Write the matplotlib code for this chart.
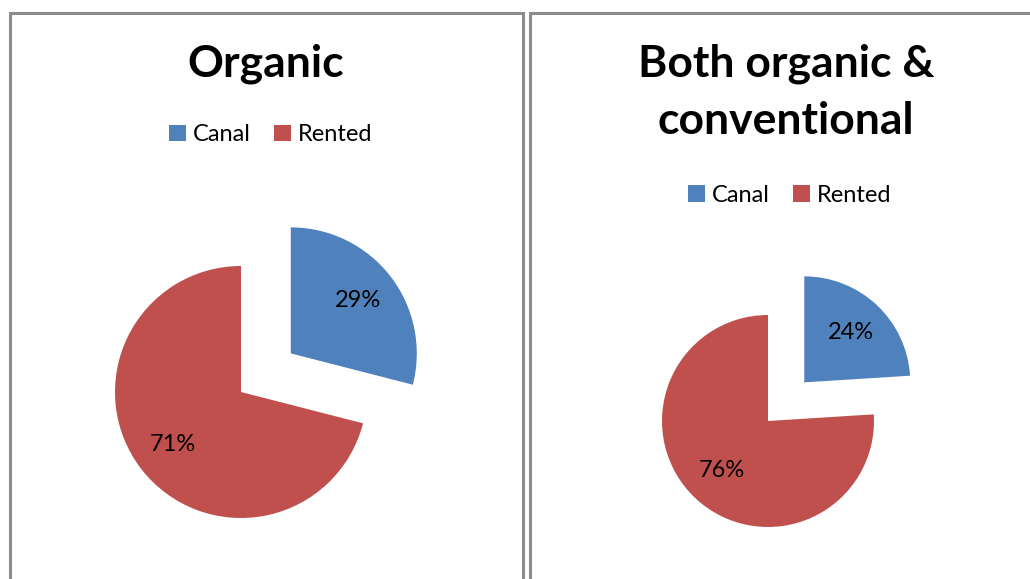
import matplotlib
matplotlib.use('Agg')
import matplotlib.pyplot as plt
from matplotlib.patches import Rectangle, Patch

# data
labels = ['Canal', 'Rented']
organic = [29, 71]
both = [24, 76]
titles = ['Organic', 'Both organic &\nconventional']
colors = ['#4F81BD', '#C0504D']

W, H = 1030, 579
plt.rcParams['font.family'] = ['Lato', 'DejaVu Sans']

fig = plt.figure(figsize=(W / 100, H / 100), dpi=100)


def fx(x):
    return x / W


def fy(y):
    # pixel y from top -> figure fraction from bottom
    return 1 - y / H


# panel borders
for x0, x1 in [(9.5, 522.5), (529.5, 1045)]:
    fig.patches.append(Rectangle((fx(x0), fy(600)), fx(x1 - x0), (600 - 12.5) / H,
                                 transform=fig.transFigure, fill=False,
                                 edgecolor='#8c8c8c', linewidth=2.2))


def draw_pie(vals, cx, cy, r, pctdist):
    k = 1.7
    half = r * k
    ax = fig.add_axes([fx(cx - half), fy(cy + half), 2 * half / W, 2 * half / H])
    wedges, texts, autotexts = ax.pie(vals, colors=colors, startangle=90,
                                      counterclock=False, explode=[0.5, 0],
                                      autopct='%.0f%%', pctdistance=pctdist,
                                      textprops={'fontsize': 17, 'color': 'black'})
    ax.set_xlim(-k, k)
    ax.set_ylim(-k, k)
    ax.set_aspect('equal')
    ax.axis('off')
    return ax


draw_pie(organic, 241, 392, 126, 0.68)
draw_pie(both, 768, 421, 106, 0.64)

# titles
fig.text(fx(266), fy(64), titles[0], ha='center', va='center',
         fontsize=32, fontweight='bold')
fig.text(fx(786), fy(92), titles[1], ha='center', va='center',
         fontsize=32, fontweight='bold', linespacing=1.5)

# legends
handles = [Patch(facecolor=c, edgecolor='none') for c in colors]
for lx, ly in [(271, 135), (790, 195)]:
    fig.legend(handles, labels, loc='center', bbox_to_anchor=(fx(lx), fy(ly)),
               ncol=2, frameon=False, fontsize=17, handlelength=0.7,
               handleheight=0.7, handletextpad=0.3, columnspacing=1.0,
               borderpad=0, borderaxespad=0)

fig.savefig('out.png', dpi=100)
